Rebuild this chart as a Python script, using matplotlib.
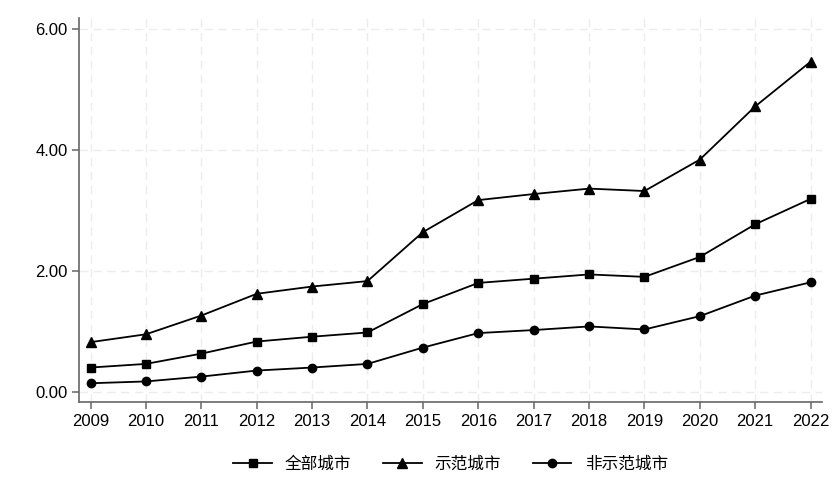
import matplotlib.pyplot as plt
import matplotlib as mpl

plt.rcParams['font.family'] = ['Liberation Sans', 'Noto Sans CJK SC', 'DejaVu Sans']

#data
years = list(range(2009, 2023))
all_cities = [0.40, 0.46, 0.63, 0.83, 0.91, 0.98, 1.45, 1.80, 1.87, 1.94, 1.90, 2.23, 2.77, 3.19]
demo_cities = [0.82, 0.95, 1.26, 1.62, 1.74, 1.83, 2.64, 3.17, 3.27, 3.36, 3.32, 3.84, 4.72, 5.46]
non_demo = [0.14, 0.17, 0.25, 0.35, 0.40, 0.46, 0.73, 0.97, 1.02, 1.08, 1.03, 1.25, 1.59, 1.81]
labels = ['全部城市', '示范城市', '非示范城市']
yticks = [0, 2, 4, 6]

fig = plt.figure(figsize=(8.4, 5.04), dpi=100)
ax = fig.add_axes([0.0946, 0.2018, 0.8836, 0.7622])

ax.plot(years, all_cities, color='black', lw=1.3, marker='s', ms=6, label=labels[0])
ax.plot(years, demo_cities, color='black', lw=1.3, marker='^', ms=6.5, label=labels[1])
ax.plot(years, non_demo, color='black', lw=1.3, marker='o', ms=6, label=labels[2])

ax.set_xlim(2008.8, 2022.2)
ax.set_ylim(-0.175, 6.18)
ax.set_xticks(years)
ax.set_yticks(yticks)
ax.set_yticklabels(['%.2f' % v for v in yticks])
ax.grid(True, color='#ececec', linestyle=(0, (6, 4)), lw=1)
ax.set_axisbelow(True)

for s in ['top', 'right']:
    ax.spines[s].set_visible(False)
for s in ['left', 'bottom']:
    ax.spines[s].set_color('#666666')
    ax.spines[s].set_linewidth(1.2)
ax.tick_params(colors='#666666', labelcolor='black', labelsize=12, length=5, width=1.1)

ax.legend(loc='center', bbox_to_anchor=(0.5, -0.161), ncol=3, frameon=False, fontsize=12,
          handlelength=2.3, handletextpad=0.8, columnspacing=1.9)

fig.savefig('out.png', dpi=100)
